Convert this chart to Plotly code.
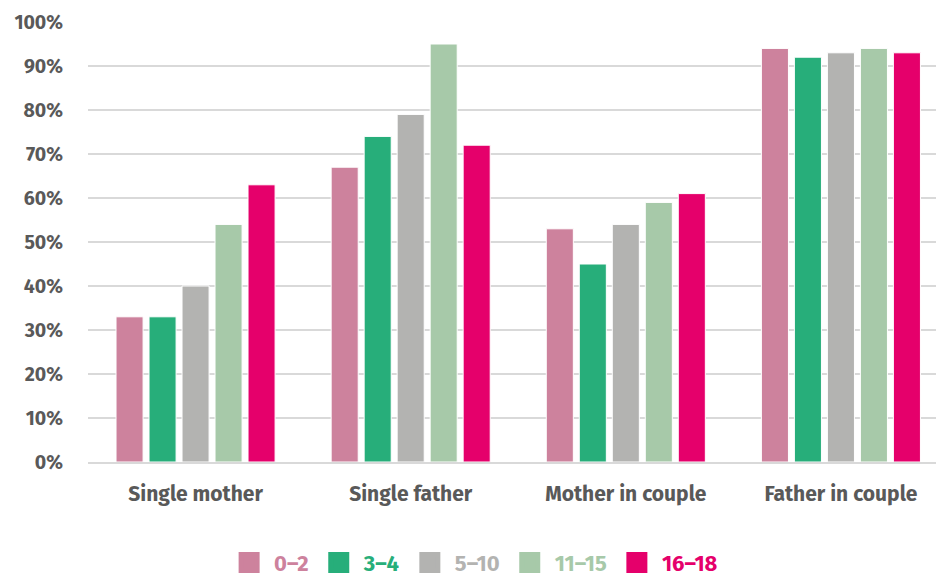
import plotly.graph_objects as go

categories = ["Single mother", "Single father", "Mother in couple", "Father in couple"]
age_groups = ["0–2", "3–4", "5–10", "11–15", "16–18"]
values = {
    "0–2": [33, 67, 53, 94],
    "3–4": [33, 74, 45, 92],
    "5–10": [40, 79, 54, 93],
    "11–15": [54, 95, 59, 94],
    "16–18": [63, 72, 61, 93],
}
colors = ["#CD829D", "#27AE7A", "#B3B3B1", "#A7C9A9", "#E5006B"]
y_ticks = [0, 10, 20, 30, 40, 50, 60, 70, 80, 90, 100]

FONT = "Fira Sans, Lato, Open Sans, sans-serif"

fig = go.Figure()
for g, c in zip(age_groups, colors):
    fig.add_trace(go.Bar(
        x=categories, y=values[g], name=g, marker_color=c,
        marker_line=dict(color="white", width=1), showlegend=False,
    ))
for g, c in zip(age_groups, colors):
    fig.add_trace(go.Scatter(
        x=[None], y=[None], mode="markers",
        name=f"<span style='color:{c}'><b>{g}</b></span>",
        marker=dict(symbol="square", size=16, color=c, line=dict(color=c, width=7)),
        showlegend=True,
    ))

fig.update_layout(
    width=936, height=580,
    margin=dict(l=88, r=0, t=22, b=118),
    plot_bgcolor="white", paper_bgcolor="white",
    barmode="group", bargap=0.233, bargroupgap=0.18,
    font=dict(family=FONT, color="#595959"),
    legend=dict(orientation="h", x=0.506, xref="container", xanchor="center",
                y=0.03, yref="container", yanchor="middle",
                font=dict(size=22, family=FONT), itemsizing="trace", itemwidth=40,
                tracegroupgap=0),
    xaxis=dict(showgrid=False, showline=True, linecolor="#d9d9d9", linewidth=2,
               range=[-0.5, 3.442],
               tickfont=dict(size=21, family=FONT, color="#595959"), ticks="",
               ticklabelstandoff=12),
    yaxis=dict(range=[0, 100], tickvals=y_ticks, ticktext=[f"<b>{v}%</b>" for v in y_ticks],
               showgrid=True, gridcolor="#d9d9d9", gridwidth=1.5, zeroline=False,
               tickfont=dict(size=19.5, family=FONT, color="#595959"), ticks="",
               ticklabelstandoff=24),
)
fig.update_xaxes(ticktext=[f"<b>{c}</b>" for c in categories], tickvals=categories)

fig.write_html("out.html")
